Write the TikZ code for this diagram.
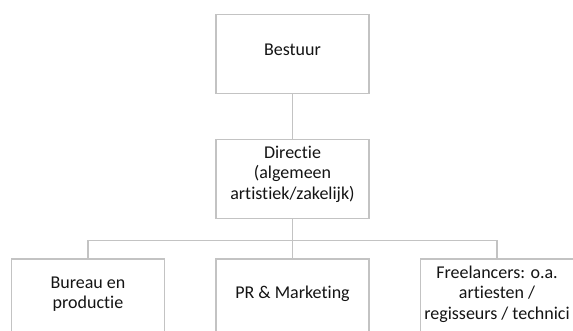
\documentclass[tikz,border=0pt]{standalone}
\usepackage{fontspec}
\setmainfont{Carlito}[Ligatures={NoCommon,NoRare,NoContextual}]
\definecolor{boxline}{RGB}{195,195,195}
\definecolor{txtcol}{RGB}{20,20,20}
\begin{document}
\begin{tikzpicture}[x=1pt,y=1pt,
  orgbox/.style={draw=boxline,line width=1.5pt,fill=white,minimum width=153pt,minimum height=79pt,inner sep=0pt},
  orgtxt/.style={text=txtcol,font=\fontsize{18pt}{20.3pt}\selectfont,align=center,inner sep=0pt},
  link/.style={draw=boxline,line width=1.5pt}]
\useasboundingbox (0,0) rectangle (573,-331);
\clip (0,0) rectangle (573,-331);
\fill[white] (0,0) rectangle (573,-331);
% boxes
\node[orgbox] (bestuur) at (292.5,-53.8) {};
\node[orgbox] (directie) at (292.5,-178.8) {};
\node[orgbox] (bureau) at (88,-298.5) {};
\node[orgbox] (pr) at (292.5,-298.5) {};
\node[orgbox] (free) at (497,-298.5) {};
% connectors
\coordinate (bus) at (292.5,-240.3);
\draw[link] (bestuur.south) -- (directie.north);
\draw[link] (directie.south) -- (bus);
\draw[link] (bus) -- (pr.north);
\draw[link] (bus) -| (bureau.north);
\draw[link] (bus) -| (free.north);
% texts
\node[orgtxt] (tbestuur) at ([yshift=4.5pt]bestuur.center) {Bestuur};
\node[orgtxt] (tdirectie) at ([yshift=4.5pt]directie.center) {Directie\\(algemeen\\artistiek/zakelijk)};
\node[orgtxt] (tbureau) at ([yshift=4.5pt]bureau.center) {Bureau en\\productie};
\node[orgtxt] (tpr) at ([yshift=4.5pt]pr.center) {PR \& Marketing};
\node[orgtxt] (tfree) at ([yshift=4.5pt]free.center) {Freelancers: o.a.\\artiesten /\\regisseurs / technici};
\end{tikzpicture}
\end{document}
